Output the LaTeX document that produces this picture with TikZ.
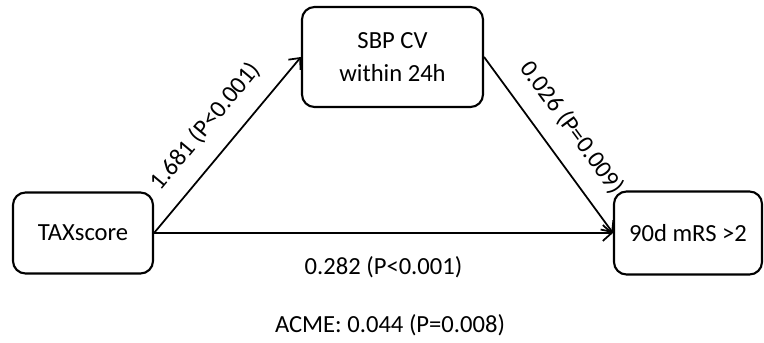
\documentclass[tikz,border=0pt]{standalone}
\usepackage{fontspec}
\setmainfont{Carlito}
\usetikzlibrary{arrows.meta}
\begin{document}
\begin{tikzpicture}[font=\fontsize{14}{19}\selectfont,
    box/.style={draw, line width=1.2pt, rounded corners=0.25cm, align=center},
    link/.style={-{Straight Barb[length=5pt, width=9pt]}, line width=1pt},
    tag/.style={midway, sloped, above, inner ysep=10pt}]
    \useasboundingbox (0, 0) rectangle (15.28, 6.84) ;
    \node[box, minimum width=2.8cm, minimum height=1.62cm] (tax) at (1.66, 2.18) {TAXscore} ;
    \node[box, minimum width=3.62cm, minimum height=2cm] (sbp) at (7.85, 5.7) {SBP CV\\within 24h} ;
    \node[box, minimum width=2.96cm, minimum height=1.66cm] (mrs) at (13.76, 2.18) {90d mRS >2} ;
    \draw[link] (tax.east) -- (sbp.west) node[tag] {1.681 (P<0.001)} ;
    \draw[link] (sbp.east) -- (mrs.west) node[tag] {0.026 (P=0.009)} ;
    \draw[link] (tax.east) -- (mrs.west) node[midway, below=0.33cm] {0.282 (P<0.001)} ;
    \node (acme) at (7.8, 0.34) {ACME: 0.044 (P=0.008)} ;
  \end{tikzpicture}
\end{document}
